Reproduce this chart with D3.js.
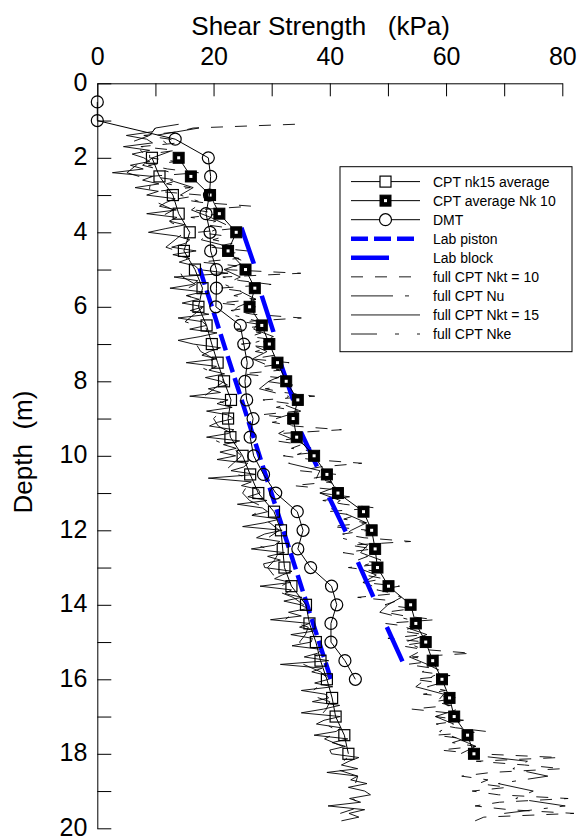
<!DOCTYPE html>
<html><head><meta charset="utf-8">
<script src="https://cdn.jsdelivr.net/npm/d3@7"></script>
<style>
html,body{margin:0;padding:0;background:#fff;}
svg{display:block;font-family:"Liberation Sans",Arial,sans-serif;}
</style></head><body>
<svg id="chart" width="577" height="839"></svg>
<script>
// ---------- axis ticks ----------
const xTicks = [0,10,20,30,40,50,60,70,80];
const xTickLabels = [0,20,40,60,80];
const yTicks = [0,1,2,3,4,5,6,7,8,9,10,11,12,13,14,15,16,17,18,19,20];
const yTickLabels = [0,2,4,6,8,10,12,14,16,18,20];

// ---------- averaged CPT markers ----------
const avgDepth = [2,2.5,3,3.5,4,4.5,5,5.5,6,6.5,7,7.5,8,8.5,9,9.5,10,10.5,11,11.5,12,12.5,13,13.5,14,14.5,15,15.5,16,16.5,17,17.5,18];
const nk15Avg = [9.4,10.7,13.0,14.0,15.9,14.9,16.8,18.1,17.4,18.8,19.7,20.7,21.8,23.0,22.5,22.9,25.0,26.3,27.7,30.4,31.6,31.9,32.2,33.4,35.9,36.5,37.6,38.4,39.5,40.4,41.0,42.5,43.2];
const nk10Avg = [14.0,16.1,19.4,21.0,23.9,22.5,25.5,27.1,26.2,28.3,29.6,31.0,32.5,34.5,33.7,34.3,37.3,39.5,41.4,45.8,47.2,47.8,48.2,50.1,53.9,54.8,56.5,57.7,59.3,60.6,61.4,63.7,64.8];

// ---------- DMT ----------
const dmtDepth = [0.5,1,1.5,2,2.5,3,3.5,4,4.5,5,5.5,6,6.5,7,7.5,8,8.5,9,9.5,10,10.5,11,11.5,12,12.5,13,13.5,14,14.5,15,15.5,16];
const dmtValue = [0,0,13.4,19.1,19.5,19.3,18.7,19.4,19.5,20.5,20.5,20.4,24.6,25.2,25.8,25.4,25.7,26.8,26.3,26.9,28.6,30.7,34.4,35.4,34.5,36.7,40.3,41.2,40.2,40.2,42.6,44.4];

// ---------- lab tests ----------
const pistonDepth = [4.97,16.0];
const pistonValue = [17.6,40.2];
const blockDepth = [3.88,4.83,5.71,6.67,7.54,8.5,9.35,10.29,11.12,12.04,12.84,13.79,14.59,15.52];
const blockValue = [24.8,26.9,28.3,30.3,31.6,33.7,35.0,37.8,39.9,42.75,44.8,47.5,49.8,52.5];

// ---------- full CPT profiles ----------
const cptDepth = [1.1,1.2,1.3,1.4,1.5,1.6,1.7,1.8,1.9,
2.0,2.1,2.2,2.3,2.4,2.5,2.6,2.7,2.8,2.9,
3.0,3.1,3.2,3.3,3.4,3.5,3.6,3.7,3.8,3.9,
4.0,4.1,4.2,4.3,4.4,4.5,4.6,4.7,4.8,4.9,
5.0,5.1,5.2,5.3,5.4,5.5,5.6,5.7,5.8,5.9,
6.0,6.1,6.2,6.3,6.4,6.5,6.6,6.7,6.8,6.9,
7.0,7.1,7.2,7.3,7.4,7.5,7.6,7.7,7.8,7.9,
8.0,8.1,8.2,8.3,8.4,8.5,8.6,8.7,8.8,8.9,
9.0,9.1,9.2,9.3,9.4,9.5,9.6,9.7,9.8,9.9,
10.0,10.1,10.2,10.3,10.4,10.5,10.6,10.7,10.8,10.9,
11.0,11.1,11.2,11.3,11.4,11.5,11.6,11.7,11.8,11.9,
12.0,12.1,12.2,12.3,12.4,12.5,12.6,12.7,12.8,12.9,
13.0,13.1,13.2,13.3,13.4,13.5,13.6,13.7,13.8,13.9,
14.0,14.1,14.2,14.3,14.4,14.5,14.6,14.7,14.8,14.9,
15.0,15.1,15.2,15.3,15.4,15.5,15.6,15.7,15.8,15.9,
16.0,16.1,16.2,16.3,16.4,16.5,16.6,16.7,16.8,16.9,
17.0,17.1,17.2,17.3,17.4,17.5,17.6,17.7,17.8,17.9,
18.0,18.1,18.2,18.3,18.4,18.5,18.6,18.7,18.8,18.9,
19.0,19.1,19.2,19.3,19.4,19.5,19.6,19.7,19.8];
const cptNkt15 = [14.0,10.0,9.5,5.0,8.5,9.5,4.5,9.0,6.0,
8.0,9.0,5.7,7.9,2.6,9.5,7.8,10.6,6.5,10.5,
8.5,13.4,11.8,10.7,13.6,8.5,13.7,12.4,15.1,11.8,
8.8,13.7,15.9,15.1,12.8,17.0,13.0,15.9,14.1,16.8,
17.5,22.5,13.2,17.3,16.4,12.5,18.2,15.3,17.5,14.6,
18.3,16.0,19.2,13.9,18.1,18.8,15.9,20.6,17.7,13.9,
16.5,21.2,19.3,18.0,20.6,15.3,20.5,19.2,21.9,18.6,
21.3,22.4,19.1,21.2,15.9,22.5,20.6,23.2,18.8,22.4,
23.5,20.7,19.3,23.5,22.6,18.8,24.5,21.7,23.9,21.1,
23.8,20.6,25.9,25.2,23.0,27.3,19.1,26.5,24.8,27.7,
28.0,25.9,29.2,24.1,28.4,29.3,26.6,31.4,28.7,25.0,
31.8,28.8,27.4,31.4,30.5,26.5,32.2,29.3,31.5,28.6,
28.8,33.5,31.8,30.5,33.3,28.0,33.4,32.3,35.2,32.1,
35.0,36.2,32.9,35.1,29.8,36.5,34.8,37.5,33.3,37.0,
36.8,33.5,38.7,37.9,35.6,39.8,31.5,38.7,36.9,39.6,
39.8,37.4,40.5,35.1,39.2,39.8,37.0,41.7,38.9,35.1,
41.8,39.0,37.7,41.9,41.1,37.3,43.1,40.4,42.7,40.0,
40.3,45.0,43.3,42.0,44.8,39.5,44.8,43.6,46.4,43.2,
46.0,47.0,43.4,45.3,39.7,46.0,43.3,45.0,42.0];
const cptNkt10 = [34.0,16.5,14.0,8.0,12.5,14.0,7.5,13.5,9.0,
9.0,13.5,8.8,12.1,17.4,9.0,14.0,11.9,16.0,10.3,
17.8,13.9,18.0,26.6,16.7,21.3,16.1,20.4,18.7,23.5,
17.3,22.1,19.9,23.2,19.5,25.8,21.6,24.4,17.7,24.0,
21.8,35.0,21.6,24.7,29.9,21.0,25.8,23.5,27.3,20.9,
27.2,23.0,26.8,35.1,24.9,29.2,23.9,28.2,26.3,31.1,
24.8,29.6,27.2,30.5,26.7,33.0,28.8,31.6,24.9,31.2,
29.0,33.6,28.9,32.1,37.4,28.5,33.2,30.8,34.5,28.1,
34.3,30.1,33.7,42.0,31.7,36.0,30.8,35.1,33.4,38.2,
32.0,36.9,45.5,38.3,34.8,41.2,37.2,40.3,33.7,40.3,
38.3,43.4,38.8,42.4,47.9,39.5,44.4,42.4,46.3,40.3,
46.7,42.2,45.9,53.9,43.5,47.5,42.3,46.5,44.8,49.4,
43.2,48.0,46.0,49.3,45.7,52.0,48.1,51.2,44.8,51.4,
49.5,54.3,49.6,52.9,58.2,49.5,54.5,52.3,56.2,50.0,
56.5,52.3,56.1,64.4,54.2,58.5,53.3,57.6,55.9,60.7,
54.5,59.1,56.8,59.9,56.1,62.2,58.0,60.8,54.1,60.4,
58.2,63.0,58.3,61.6,66.9,58.2,63.2,61.1,65.1,59.0,
65.5,79.5,65.2,73.5,80.0,67.8,62.7,67.2,65.6,70.6,
64.5,69.0,81.0,69.2,65.0,70.8,82.0,66.5,65.0];
const cptDepthCoarse = [1.2,1.4,1.6,1.8,2.0,2.2,2.4,2.6,2.8,3.0,3.2,3.4,3.6,3.8,4.0,4.2,4.4,4.6,4.8,5.0,
5.2,5.4,5.6,5.8,6.0,6.2,6.4,6.6,6.8,7.0,7.2,7.4,7.6,7.8,8.0,8.2,8.4,8.6,8.8,9.0,
9.2,9.4,9.6,9.8,10.0,10.2,10.4,10.6,10.8,11.0,11.2,11.4,11.6,11.8,12.0,12.2,12.4,12.6,12.8,13.0,
13.2,13.4,13.6,13.8,14.0,14.2,14.4,14.6,14.8,15.0,15.2,15.4,15.6,15.8,16.0,16.2,16.4,16.6,16.8,17.0,
17.2,17.4,17.6,17.8,18.0,18.2,18.4,18.6,18.8,19.0,19.2,19.4,19.6];
const cptNu = [17.5,10.0,11.8,13.0,9.5,7.8,12.9,12.5,16.5,14.3,
18.0,16.2,19.5,22.2,19.3,17.9,23.0,22.1,25.7,21.8,
24.6,21.9,24.8,27.3,24.2,22.8,27.9,26.9,30.3,26.3,
29.2,26.7,29.8,32.4,29.5,27.9,32.9,31.7,35.0,30.8,
33.7,31.2,34.3,36.9,34.0,32.9,38.3,37.7,41.7,38.3,
41.8,39.9,43.4,46.3,43.7,41.9,46.5,45.3,48.8,44.7,
48.0,45.7,49.1,52.3,50.0,48.6,53.7,53.0,56.7,53.0,
56.1,53.7,56.8,59.4,56.5,54.8,59.6,58.5,62.1,58.2,
61.3,58.9,62.2,65.1,62.5,74.0,71.5,77.5,69.0,75.0,
72.0,80.5,70.0];
const cptNke = [10.0,9.0,5.5,7.5,8.5,6.7,5.1,9.3,9.0,9.0,
10.3,13.1,10.7,13.6,15.0,13.4,11.8,15.7,15.1,14.0,
14.7,16.9,14.2,17.0,18.3,16.7,15.1,18.9,18.2,17.0,
17.8,20.1,17.5,20.4,21.8,20.1,18.4,22.1,21.3,20.0,
20.8,23.1,20.5,23.4,24.8,23.4,22.0,26.1,25.8,25.0,
26.2,28.9,26.6,29.7,31.3,29.4,27.5,31.2,30.5,29.3,
30.3,32.8,30.4,33.7,35.5,33.9,32.3,36.3,35.8,34.8,
35.7,38.1,35.5,38.4,39.8,38.0,36.2,40.0,39.4,38.3,
39.2,41.6,39.1,42.2,43.8,42.3,40.8,44.8,44.4,43.5,
43.9,45.7,41.8];

// ---------- drawing ----------
const svg = d3.select("#chart");
const x = d3.scaleLinear().domain([0, 80]).range([97.3, 562.3]);
const y = d3.scaleLinear().domain([0, 20]).range([83.3, 828.3]);
const line = d3.line().x(p => x(p[0])).y(p => y(p[1]));
const BLUE = "#0000ff";

const traces = [
  {vals: cptNkt15, depth: cptDepth, dash: null},
  {vals: cptNke, depth: cptDepthCoarse, dash: "26,18,4,18"},
  {vals: cptNu, depth: cptDepthCoarse, dash: "42,12,4,12"},
  {vals: cptNkt10, depth: cptDepth, dash: "12,12"}
];
const gTr = svg.append("g");
traces.forEach(t => {
  gTr.append("path")
    .attr("d", line(d3.zip(t.vals, t.depth)))
    .attr("fill", "none").attr("stroke", "#000").attr("stroke-width", 0.9)
    .attr("stroke-linejoin", "round")
    .attr("stroke-dasharray", t.dash);
});

// lab lines
svg.append("path").attr("d", line(d3.zip(pistonValue, pistonDepth)))
  .attr("fill", "none").attr("stroke", BLUE).attr("stroke-width", 4.5)
  .attr("stroke-dasharray", "17,6");
svg.append("path").attr("d", line(d3.zip(blockValue, blockDepth)))
  .attr("fill", "none").attr("stroke", BLUE).attr("stroke-width", 4.5)
  .attr("stroke-dasharray", "38,33");

// marker series
function drawMarker(g, cx, cy, kind, fill) {
  if (kind === "open") {
    g.append("rect").attr("x", cx - 5.5).attr("y", cy - 5.5).attr("width", 11).attr("height", 11)
      .attr("fill", fill).attr("stroke", "#000").attr("stroke-width", 1.2);
  } else if (kind === "filled") {
    g.append("rect").attr("x", cx - 5.5).attr("y", cy - 5.5).attr("width", 11).attr("height", 11)
      .attr("fill", "#000").attr("stroke", "#000").attr("stroke-width", 1);
    g.append("rect").attr("x", cx - 1.5).attr("y", cy - 1.5).attr("width", 3).attr("height", 3)
      .attr("fill", "#fff");
  } else {
    g.append("circle").attr("cx", cx).attr("cy", cy).attr("r", 6)
      .attr("fill", fill).attr("stroke", "#000").attr("stroke-width", 1.2);
  }
}
function series(vals, depths, kind) {
  const pts = d3.zip(vals, depths);
  svg.append("path").attr("d", line(pts))
    .attr("fill", "none").attr("stroke", "#000").attr("stroke-width", 1);
  const g = svg.append("g");
  pts.forEach(p => drawMarker(g, x(p[0]), y(p[1]), kind, "none"));
}
series(nk15Avg, avgDepth, "open");
series(nk10Avg, avgDepth, "filled");
series(dmtValue, dmtDepth, "circle");

// axes
const xAxis = d3.axisTop(x).tickValues(xTicks).tickSizeInner(-13).tickSizeOuter(0).tickPadding(18)
  .tickFormat(d => xTickLabels.includes(d) ? d : "");
const gx = svg.append("g").attr("transform", "translate(0,83.3)").call(xAxis);
const yAxis = d3.axisLeft(y).tickValues(yTicks).tickSizeInner(-14).tickSizeOuter(0).tickPadding(10)
  .tickFormat(d => yTickLabels.includes(d) ? d : "");
const gy = svg.append("g").attr("transform", "translate(97.3,0)").call(yAxis);
[gx, gy].forEach(g => {
  g.selectAll("text").attr("font-size", 25).attr("fill", "#000")
    .attr("font-family", "'Liberation Sans', Arial, sans-serif");
  g.selectAll("line,path").attr("stroke", "#000").attr("stroke-width", 1);
});
gy.selectAll("text").attr("dy", "0.28em");

svg.append("text").attr("x", 450).attr("y", 35).attr("text-anchor", "end")
  .attr("font-size", 26).style("white-space", "pre").text("Shear Strength   (kPa)");
svg.append("text").attr("transform", "translate(31.7,452) rotate(-90)").attr("text-anchor", "middle")
  .attr("font-size", 26).style("white-space", "pre").text("Depth  (m)");

// legend
const legendLabels = ["CPT nk15 average","CPT average Nk 10","DMT","Lab piston","Lab block",
  "full CPT Nkt = 10","full CPT Nu","full CPT Nkt = 15","full CPT Nke"];
const lg = svg.append("g");
lg.append("rect").attr("x", 340).attr("y", 166.7).attr("width", 232).attr("height", 185)
  .attr("fill", "#fff").attr("stroke", "#000").attr("stroke-width", 1);
const legendStyles = [
  {stroke: "#000", w: 1, dash: null, marker: "open"},
  {stroke: "#000", w: 1, dash: null, marker: "filled"},
  {stroke: "#000", w: 1, dash: null, marker: "circle"},
  {stroke: BLUE, w: 4.5, dash: "17,6", x2: 414},
  {stroke: BLUE, w: 4.5, dash: "38,33"},
  {stroke: "#000", w: 0.9, dash: "12,12"},
  {stroke: "#000", w: 0.9, dash: "42,12,4,12"},
  {stroke: "#000", w: 0.9, dash: null},
  {stroke: "#000", w: 0.9, dash: "26,18,4,18"}
];
legendLabels.forEach((lab, i) => {
  const ry = 181.6 + i * 19.05;
  const s = legendStyles[i];
  lg.append("line").attr("x1", 351).attr("x2", s.x2 || 420).attr("y1", ry).attr("y2", ry)
    .attr("stroke", s.stroke).attr("stroke-width", s.w).attr("stroke-dasharray", s.dash);
  if (s.marker) drawMarker(lg, 385.5, ry, s.marker, "#fff");
  lg.append("text").attr("x", 433).attr("y", ry + 5).attr("font-size", 14).text(lab);
});
</script></body></html>
